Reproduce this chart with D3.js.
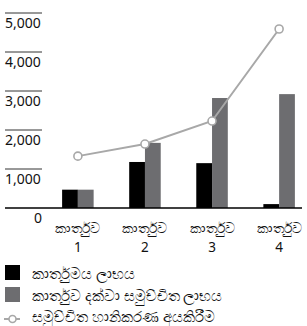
<!DOCTYPE html>
<meta charset="utf-8">
<script src="https://d3js.org/d3.v7.min.js"></script>
<style>
  body { margin: 0; background: #fff; }
  text { font-family: "Noto Sans", "Open Sans", sans-serif; fill: #111; }
</style>
<body>
<div id="chart"></div>
<script>
// data
var quarters = ["කාර්තුව 1", "කාර්තුව 2", "කාර්තුව 3", "කාර්තුව 4"];
var profit = [470, 1180, 1150, 100];
var cumulative = [470, 1670, 2820, 2920];
var cumulativeLoss = [1330, 1640, 2230, 4590];
var yTicks = [0, 1000, 2000, 3000, 4000, 5000];
var seriesNames = ["කාර්තුමය ලාභය", "කාර්තුව දක්වා සමුච්චිත ලාභය", "සමුච්චිත හානිකරණ අයකිරීම"];

var width = 307, height = 326;
var svg = d3.select("#chart").append("svg")
    .attr("width", width)
    .attr("height", height);

var y = d3.scaleLinear().domain([0, 5000]).range([208, 13]);
var x = d3.scaleBand().domain(quarters).range([44, 313]).paddingInner(0.53).paddingOuter(0.27);
var fmt = d3.format(",");

// short tick lines + labels on the left
yTicks.forEach(function(t) {
  if (t > 0) {
    svg.append("line")
      .attr("x1", 5).attr("x2", 42)
      .attr("y1", y(t)).attr("y2", y(t))
      .attr("stroke", "#333").attr("stroke-width", 1);
  }
  svg.append("text")
    .attr("x", t === 0 ? 42 : 5)
    .attr("y", y(t) + 15)
    .attr("text-anchor", t === 0 ? "end" : "start")
    .style("font-size", "14px")
    .text(fmt(t));
});

var bw = x.bandwidth() / 2;

svg.selectAll(".bar1").data(profit).enter().append("rect")
  .attr("x", function(d, i) { return x(quarters[i]); })
  .attr("y", function(d) { return y(d); })
  .attr("width", bw)
  .attr("height", function(d) { return y(0) - y(d); })
  .attr("fill", "#000");

svg.selectAll(".bar2").data(cumulative).enter().append("rect")
  .attr("x", function(d, i) { return x(quarters[i]) + bw; })
  .attr("y", function(d) { return y(d); })
  .attr("width", bw)
  .attr("height", function(d) { return y(0) - y(d); })
  .attr("fill", "#6d6d70");

// baseline
svg.append("line")
  .attr("x1", 5).attr("x2", 302)
  .attr("y1", y(0)).attr("y2", y(0))
  .attr("stroke", "#000").attr("stroke-width", 1.3);

// line series
var line = d3.line()
  .x(function(d, i) { return x(quarters[i]) + bw; })
  .y(function(d) { return y(d); });

svg.append("path")
  .datum(cumulativeLoss)
  .attr("d", line)
  .attr("fill", "none")
  .attr("stroke", "#a8a8a8")
  .attr("stroke-width", 2);

svg.selectAll(".pt").data(cumulativeLoss).enter().append("circle")
  .attr("cx", function(d, i) { return x(quarters[i]) + bw; })
  .attr("cy", function(d) { return y(d); })
  .attr("r", 4)
  .attr("fill", "#fff")
  .attr("stroke", "#a8a8a8")
  .attr("stroke-width", 1.6);

// x labels, two lines
quarters.forEach(function(q) {
  var parts = q.split(" ");
  svg.append("text")
    .attr("x", x(q) + bw).attr("y", 233)
    .attr("text-anchor", "middle")
    .style("font-size", "13.5px")
    .text(parts[0]);
  svg.append("text")
    .attr("x", x(q) + bw).attr("y", 252)
    .attr("text-anchor", "middle")
    .style("font-size", "13.5px")
    .text(parts[1]);
});

// legend
var lg = svg.append("g");
lg.append("rect").attr("x", 5).attr("y", 265).attr("width", 15).attr("height", 15).attr("fill", "#000");
lg.append("rect").attr("x", 5).attr("y", 287).attr("width", 15).attr("height", 15).attr("fill", "#6d6d70");
lg.append("line").attr("x1", 4).attr("x2", 20).attr("y1", 319).attr("y2", 319)
  .attr("stroke", "#a8a8a8").attr("stroke-width", 2);
lg.append("circle").attr("cx", 12.5).attr("cy", 319).attr("r", 3.5)
  .attr("fill", "#fff").attr("stroke", "#a8a8a8").attr("stroke-width", 1.6);

seriesNames.forEach(function(s, i) {
  lg.append("text")
    .attr("x", 32)
    .attr("y", [279, 301, 322][i])
    .style("font-size", "14.5px")
    .text(s);
});
</script>
</body>
